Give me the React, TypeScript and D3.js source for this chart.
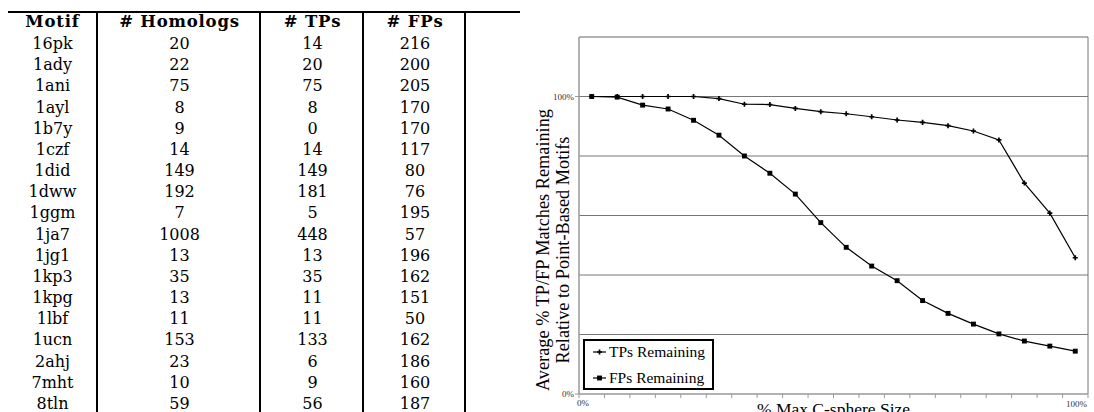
import React from "react";
import * as d3 from "d3";

// ---- Table data ----
const tableHeaders = ["Motif", "# Homologs", "# TPs", "# FPs"];
const motifs = ["16pk", "1ady", "1ani", "1ayl", "1b7y", "1czf", "1did", "1dww", "1ggm", "1ja7", "1jg1", "1kp3", "1kpg", "1lbf", "1ucn", "2ahj", "7mht", "8tln"];
const homologs = [20, 22, 75, 8, 9, 14, 149, 192, 7, 1008, 13, 35, 13, 11, 153, 23, 10, 59];
const tps = [14, 20, 75, 8, 0, 14, 149, 181, 5, 448, 13, 35, 11, 11, 133, 6, 9, 56];
const fps = [216, 200, 205, 170, 170, 117, 80, 76, 195, 57, 196, 162, 151, 50, 162, 186, 160, 187];

// ---- Chart data ----
const steps = d3.range(20); // 20 C-sphere size steps
const tpRemaining = [100, 100, 100, 100, 100, 99.3, 97.4, 97.3, 96.0, 94.9, 94.2, 93.2, 92.1, 91.3, 90.2, 88.4, 85.4, 70.9, 60.8, 45.8];
const fpRemaining = [100, 99.8, 97.1, 95.8, 92.0, 87.0, 80.0, 74.2, 67.2, 57.6, 49.3, 43.0, 38.1, 31.4, 27.1, 23.5, 20.2, 17.8, 16.1, 14.4];
const yGrid = [20, 40, 60, 80, 100];
const yLabels = [0, 100];
const xLabels = ["0%", "100%"];
const seriesNames = ["TPs Remaining", "FPs Remaining"];

const W = 1094;
const H = 412;

export default function App() {
  // table scales
  const colEdges = [8, 97, 260, 363, 465, 520];
  const rowY = d3.scaleLinear().domain([0, motifs.length - 1]).range([49, 409]);
  const cols = [motifs, homologs, tps, fps];
  const colCenter = (c: number) => (colEdges[c] + colEdges[c + 1]) / 2 + (c === 0 ? 0 : 1);

  // chart scales
  const x = d3.scaleBand<number>().domain(steps).range([579, 1088]).paddingInner(0).paddingOuter(0);
  const cx = (i: number) => (x(i) as number) + x.bandwidth() / 2;
  const y = d3.scaleLinear().domain([0, 120]).range([394, 37]);
  const [x0, x1] = x.range();
  const line = d3.line<number>().x((_, i) => cx(i)).y((d) => y(d));
  const cross = d3.symbol().type(d3.symbolCross).size(14)();
  const square = d3.symbol().type(d3.symbolSquare).size(24)();
  const serif = "'Liberation Serif', 'Times New Roman', serif";
  const tableFont = "'DejaVu Serif', serif";
  const xTicks = d3.range(steps.length + 1).map((k) => x0 + k * x.bandwidth());

  return (
    <svg width={W} height={H} style={{ position: "absolute", left: 0, top: 0, background: "#fff" }}>
      {/* ---------- Table ---------- */}
      <line x1={colEdges[0]} x2={colEdges[5]} y1={12} y2={12} stroke="#000" strokeWidth={2} />
      {colEdges.slice(1, 5).map((cxE, i) => (
        <line key={i} x1={cxE} x2={cxE} y1={12} y2={H} stroke="#000" strokeWidth={2} />
      ))}
      {tableHeaders.map((h, c) => (
        <text key={h} x={colCenter(c)} y={27} textAnchor="middle" fontFamily={tableFont} fontWeight="bold" fontSize={16.5} letterSpacing={0.8}>
          {h}
        </text>
      ))}
      {cols.map((col, c) =>
        col.map((v, r) => (
          <text key={c + "-" + r} x={colCenter(c)} y={rowY(r)} textAnchor="middle" fontFamily={tableFont} fontSize={16}>
            {v}
          </text>
        ))
      )}

      {/* ---------- Chart ---------- */}
      {yGrid.map((g) => (
        <line key={g} x1={x0} x2={x1} y1={y(g)} y2={y(g)} stroke="#777" strokeWidth={1} />
      ))}
      {/* plot frame */}
      <line x1={x0} x2={x1} y1={y(120)} y2={y(120)} stroke="#666" strokeWidth={1} />
      <line x1={x1} x2={x1} y1={y(120)} y2={y(0)} stroke="#777" strokeWidth={1} />
      <line x1={x0} x2={x0} y1={y(120)} y2={y(0)} stroke="#999" strokeWidth={1.5} />
      <line x1={x0} x2={x1} y1={y(0)} y2={y(0)} stroke="#999" strokeWidth={1.5} />
      {yLabels.map((v) => (
        <g key={v}>
          <line x1={x0 - 4} x2={x0} y1={y(v)} y2={y(v)} stroke="#999" />
          <text x={x0 - 5} y={y(v) + 3} textAnchor="end" fontFamily={serif} fontSize={9} fill="#333">
            {v}%
          </text>
        </g>
      ))}
      {xTicks.map((t, k) => (
        <line key={k} x1={t} x2={t} y1={y(0)} y2={y(0) + 4} stroke="#999" />
      ))}
      <text x={x0 - 2} y={406} fontFamily={serif} fontSize={9} fill="#333">{xLabels[0]}</text>
      <text x={x1 - 1} y={407} textAnchor="end" fontFamily={serif} fontSize={9} fill="#333">{xLabels[1]}</text>

      {/* series */}
      <path d={line(tpRemaining) ?? ""} fill="none" stroke="#000" strokeWidth={1.2} />
      <path d={line(fpRemaining) ?? ""} fill="none" stroke="#000" strokeWidth={1.2} />
      {tpRemaining.map((v, i) => (
        <path key={"tp" + i} d={cross ?? ""} transform={`translate(${cx(i)},${y(v)})`} fill="#000" />
      ))}
      {fpRemaining.map((v, i) => (
        <path key={"fp" + i} d={square ?? ""} transform={`translate(${cx(i)},${y(v)})`} fill="#000" />
      ))}

      {/* axis titles */}
      <text x={(x0 + x1) / 2} y={415} textAnchor="middle" fontFamily={serif} fontSize={17.5}>
        % Max C-sphere Size
      </text>
      <g transform={`translate(549, 250) rotate(-90)`}>
        <text x={0} y={0} textAnchor="middle" fontFamily={serif} fontSize={18.3}>
          Average % TP/FP Matches Remaining
        </text>
        <text x={0} y={20} textAnchor="middle" fontFamily={serif} fontSize={18.3}>
          Relative to Point-Based Motifs
        </text>
      </g>

      {/* legend */}
      <rect x={584} y={340} width={129} height={49} fill="#fff" stroke="#000" strokeWidth={2} />
      {seriesNames.map((name, i) => (
        <g key={name} transform={`translate(0, ${357 + i * 26})`}>
          <line x1={593} x2={606} y1={-5} y2={-5} stroke="#000" strokeWidth={1.2} />
          <path d={(i === 0 ? cross : square) ?? ""} transform={`translate(599.5, -5)`} fill="#000" />
          <text x={609} y={0} fontFamily={serif} fontSize={15.5}>
            {name}
          </text>
        </g>
      ))}
    </svg>
  );
}
